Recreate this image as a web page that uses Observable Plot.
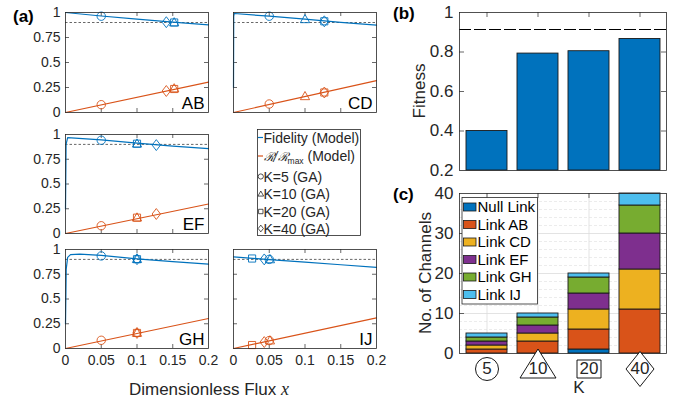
<!DOCTYPE html>
<html>
<head>
<meta charset="utf-8">
<script src="https://cdn.jsdelivr.net/npm/d3@7"></script>
<script src="https://cdn.jsdelivr.net/npm/@observablehq/plot@0.6"></script>
<style>
html,body{margin:0;padding:0;background:#fff;}
#chart{position:relative;width:689px;height:403px;overflow:hidden;background:#fff;}
#chart svg{position:absolute;}
</style>
</head>
<body>
<div id="chart"></div>
<script>
// ---------------- Panel (a) data ----------------
const linkNames = ["AB", "CD", "EF", "GH", "IJ"];
const fluxTicks = [0, 0.05, 0.1, 0.15, 0.2];
const fidelityTicks = [0, 0.25, 0.5, 0.75, 1];
const fidelityThreshold = 0.9;

// model fidelity curves [flux x, fidelity]
const fidelityAB = [[0, 1.0], [0.05, 0.965], [0.1, 0.933], [0.15, 0.904], [0.2, 0.877]];
const fidelityCD = [[0, 0.25], [0.0003, 0.96], [0.001, 0.99], [0.05, 0.963], [0.1, 0.933], [0.15, 0.902], [0.2, 0.874]];
const fidelityEF = [[0, 0.25], [0.0008, 0.9], [0.003, 0.968], [0.05, 0.945], [0.1, 0.912], [0.15, 0.883], [0.2, 0.857]];
const fidelityGH = [[0, 0.25], [0.001, 0.8], [0.003, 0.92], [0.007, 0.948], [0.02, 0.953], [0.05, 0.94], [0.1, 0.905], [0.15, 0.877], [0.2, 0.852]];
const fidelityIJ = [[0, 0.925], [0.05, 0.898], [0.1, 0.872], [0.15, 0.846], [0.2, 0.82]];

// model normalised rate R/Rmax [flux x, rate]
const rateAB = [[0, 0], [0.2, 0.303]];
const rateCD = [[0, 0], [0.2, 0.318]];
const rateEF = [[0, 0], [0.2, 0.298]];
const rateGH = [[0, 0], [0.2, 0.303]];
const rateIJ = [[0, 0], [0.2, 0.31]];

// GA solutions for K = 5, 10, 20, 40
const gaK = [5, 10, 20, 40];
const gaFluxAB = [0.05, 0.152, 0.152, 0.141];
const gaFidAB  = [0.963, 0.9, 0.9, 0.903];
const gaRateAB = [0.078, 0.24, 0.235, 0.215];
const gaFluxCD = [0.05, 0.1, 0.127, 0.127];
const gaFidCD  = [0.963, 0.932, 0.912, 0.912];
const gaRateCD = [0.085, 0.162, 0.2, 0.2];
const gaFluxEF = [0.05, 0.1, 0.1, 0.127];
const gaFidEF  = [0.942, 0.907, 0.907, 0.893];
const gaRateEF = [0.078, 0.16, 0.16, 0.197];
const gaFluxGH = [0.05, 0.1, 0.1, 0.1];
const gaFidGH  = [0.935, 0.902, 0.902, 0.902];
const gaRateGH = [0.083, 0.157, 0.157, 0.157];
const gaFluxIJ = [0.05, 0.051, 0.026, 0.043];
const gaFidIJ  = [0.9, 0.9, 0.909, 0.9];
const gaRateIJ = [0.08, 0.08, 0.035, 0.065];

// ---------------- Panel (b) data ----------------
const kValues = ["5", "10", "20", "40"];
const fitness = [0.40, 0.792, 0.804, 0.866];
const fitnessTarget = 0.914;
const fitnessTicks = [0.2, 0.4, 0.6, 0.8, 1];

// ---------------- Panel (c) data ----------------
const channelTypes = ["Null Link", "Link AB", "Link CD", "Link EF", "Link GH", "Link IJ"];
const nullLink = [0, 0, 1, 0];
const linkAB = [1, 3, 5, 11];
const linkCD = [1, 2, 5, 10];
const linkEF = [1, 2, 4, 9];
const linkGH = [1, 2, 4, 7];
const linkIJ = [1, 1, 1, 3];
const channelTicks = [0, 10, 20, 30, 40];

// ---------------- styling ----------------
const chart = document.getElementById("chart");
const FONT = '"Liberation Sans", Arial, Helvetica, sans-serif';
const INK = "#262626";
const BLUE = "#0072BD", ORANGE = "#D95319";
const channelColors = ["#0072BD", "#D95319", "#EDB120", "#7E2F8E", "#77AC30", "#4DBEEE"];
const baseStyle = {fontFamily: FONT, fontSize: "14px", color: INK, background: "none", overflow: "visible", maxWidth: "none"};

function place(svg, left, top) {
  svg.style.left = left + "px";
  svg.style.top = top + "px";
  chart.appendChild(svg);
}
const rOf = s => Math.sqrt(s / Math.PI);
const markerShapes = [
  {draw(c, s) { const r = rOf(s); c.moveTo(r, 0); c.arc(0, 0, r, 0, 2 * Math.PI); c.closePath(); }},
  {draw(c, s) { const r = rOf(s); c.moveTo(0, -1.15 * r); c.lineTo(1.1 * r, 0.8 * r); c.lineTo(-1.1 * r, 0.8 * r); c.closePath(); }},
  {draw(c, s) { const r = rOf(s) * 0.85; c.rect(-r, -r, 2 * r, 2 * r); }},
  {draw(c, s) { const r = rOf(s); c.moveTo(0, -1.3 * r); c.lineTo(r, 0); c.lineTo(0, 1.3 * r); c.lineTo(-r, 0); c.closePath(); }}
];

// ---------------- Panel (a) ----------------
function linkPanel(name, fid, rate, gx, gf, gr, L, T, H, showX, showY) {
  const W = 143, mL = 60, mR = 10, mT = 8, mB = showX ? 30 : 8;
  const innerFlux = fluxTicks.slice(1, -1), innerFid = fidelityTicks.slice(1, -1);
  const pts = gaK.map((k, i) => ({k, i, x: gx[i], f: gf[i], r: gr[i]}));
  const tk = {stroke: INK, strokeWidth: 0.7};
  const marks = [
    Plot.ruleY([fidelityThreshold], {stroke: INK, strokeWidth: 0.7, strokeDasharray: "2.5,2"}),
    Plot.tickX(innerFlux, {x: d => d, insetBottom: H - 4, ...tk}),
    Plot.tickX(innerFlux, {x: d => d, insetTop: H - 4, ...tk}),
    Plot.tickY(innerFid, {y: d => d, insetRight: W - 4, ...tk}),
    Plot.tickY(innerFid, {y: d => d, insetLeft: W - 4, ...tk}),
    Plot.line(fid, {x: d => d[0], y: d => d[1], stroke: BLUE, strokeWidth: 1.2}),
    Plot.line(rate, {x: d => d[0], y: d => d[1], stroke: ORANGE, strokeWidth: 1.2}),
    ...pts.map(p => Plot.dot([p], {x: "x", y: "f", symbol: markerShapes[p.i], r: 4.2, stroke: BLUE, fill: "none", strokeWidth: 0.9})),
    ...pts.map(p => Plot.dot([p], {x: "x", y: "r", symbol: markerShapes[p.i], r: 4.2, stroke: ORANGE, fill: "none", strokeWidth: 0.9})),
    Plot.frame({stroke: INK, strokeWidth: 0.8}),
    Plot.text([name], {text: d => d, frameAnchor: "bottom-right", dx: -4, dy: -3.5, textAnchor: "end", lineAnchor: "bottom", fontSize: 17, fill: "#000"})
  ];
  if (showY) marks.push(Plot.axisY(fidelityTicks, {tickSize: 0, tickPadding: 5, tickFormat: d => String(d), label: null, fontSize: 14}));
  if (showX) marks.push(Plot.axisX(fluxTicks, {tickSize: 0, tickPadding: 7, tickFormat: d => String(d), label: null, fontSize: 14}));
  const svg = Plot.plot({
    width: mL + W + mR, height: mT + H + mB,
    marginLeft: mL, marginRight: mR, marginTop: mT, marginBottom: mB,
    x: {domain: [0, 0.2], axis: null},
    y: {domain: [0, 1], axis: null},
    style: baseStyle,
    marks
  });
  place(svg, L - mL, T - mT);
}
linkPanel(linkNames[0], fidelityAB, rateAB, gaFluxAB, gaFidAB, gaRateAB, 65, 12, 100, false, true);
linkPanel(linkNames[1], fidelityCD, rateCD, gaFluxCD, gaFidCD, gaRateCD, 233, 12, 100, false, false);
linkPanel(linkNames[2], fidelityEF, rateEF, gaFluxEF, gaFidEF, gaRateEF, 65, 134, 99, false, true);
linkPanel(linkNames[3], fidelityGH, rateGH, gaFluxGH, gaFidGH, gaRateGH, 65, 249, 99, true, true);
linkPanel(linkNames[4], fidelityIJ, rateIJ, gaFluxIJ, gaFidIJ, gaRateIJ, 233, 249, 99, true, false);

// ---------------- Panel (b) ----------------
{
  const L = 459, T = 12, W = 207, H = 158, mL = 55, mR = 10, mT = 8, mB = 8;
  const rows = kValues.map((k, i) => ({k, f: fitness[i]}));
  const inner = fitnessTicks.slice(1, -1);
  const tk = {stroke: INK, strokeWidth: 0.7};
  const svg = Plot.plot({
    width: mL + W + mR, height: mT + H + mB,
    marginLeft: mL, marginRight: mR, marginTop: mT, marginBottom: mB,
    x: {type: "band", domain: kValues, paddingInner: 0.2, paddingOuter: 0.1, axis: null},
    y: {domain: [0.2, 1], axis: null},
    style: baseStyle,
    marks: [
      Plot.tickY(inner, {y: d => d, insetRight: W - 5, ...tk}),
      Plot.tickY(inner, {y: d => d, insetLeft: W - 5, ...tk}),
      Plot.tickX(kValues, {x: d => d, insetBottom: H - 5, ...tk}),
      Plot.barY(rows, {x: "k", y1: fitnessTicks[0], y2: "f", fill: BLUE, stroke: "#1a1a1a", strokeWidth: 0.9}),
      Plot.ruleY([fitnessTarget], {stroke: "#000", strokeWidth: 1.2, strokeDasharray: "12,3"}),
      Plot.frame({stroke: INK, strokeWidth: 0.8}),
      Plot.axisY(fitnessTicks, {tickSize: 0, tickPadding: 6, tickFormat: d => String(d), label: null, fontSize: 17})
    ]
  });
  place(svg, L - mL, T - mT);
}

// ---------------- Panel (c) ----------------
{
  const L = 459, T = 193, W = 207, H = 160, mL = 55, mR = 10, mT = 5, mB = 45;
  const counts = [nullLink, linkAB, linkCD, linkEF, linkGH, linkIJ];
  const rows = [];
  kValues.forEach((k, i) => channelTypes.forEach((t, j) => {
    if (counts[j][i] > 0) rows.push({k, type: t, n: counts[j][i]});
  }));
  const inner = channelTicks.slice(1, -1);
  const minor = d3.range(channelTicks[0], channelTicks[channelTicks.length - 1], 2).filter(v => v % 10 !== 0);
  const tk = {stroke: INK, strokeWidth: 0.7};
  const tickShapes = [
    {draw(c) { c.moveTo(11.5, 0); c.arc(0, 0, 11.5, 0, 2 * Math.PI); c.closePath(); }},
    {draw(c) { c.moveTo(0, -20); c.lineTo(18, 9); c.lineTo(-18, 9); c.closePath(); }},
    {draw(c) { c.rect(-12, -9, 24, 18); }},
    {draw(c) { c.moveTo(0, -17.5); c.lineTo(14, 0); c.lineTo(0, 17.5); c.lineTo(-14, 0); c.closePath(); }}
  ];
  const svg = Plot.plot({
    width: mL + W + mR, height: mT + H + mB,
    marginLeft: mL, marginRight: mR, marginTop: mT, marginBottom: mB,
    x: {type: "band", domain: kValues, paddingInner: 0.2, paddingOuter: 0.1, axis: null},
    y: {domain: [0, 40], axis: null},
    color: {domain: channelTypes, range: channelColors},
    style: baseStyle,
    marks: [
      Plot.ruleY(minor, {y: d => d, stroke: "#e4e4e4", strokeWidth: 0.7, strokeDasharray: "3,2"}),
      Plot.ruleY(inner, {y: d => d, stroke: "#dcdcdc", strokeWidth: 0.8}),
      Plot.ruleX(kValues, {x: d => d, stroke: "#dcdcdc", strokeWidth: 0.8}),
      Plot.tickY(inner, {y: d => d, insetRight: W - 5, ...tk}),
      Plot.tickY(inner, {y: d => d, insetLeft: W - 5, ...tk}),
      Plot.tickX(kValues, {x: d => d, insetBottom: H - 5, ...tk}),
      Plot.tickX(kValues, {x: d => d, insetTop: H - 5, ...tk}),
      Plot.barY(rows, {x: "k", y: "n", fill: "type", stroke: "#1a1a1a", strokeWidth: 0.9}),
      Plot.frame({stroke: INK, strokeWidth: 0.8}),
      Plot.axisY(channelTicks, {tickSize: 0, tickPadding: 6, tickFormat: d => String(d), label: null, fontSize: 17}),
      ...kValues.map((k, i) => Plot.dot([k], {x: d => d, frameAnchor: "bottom", dy: 15.5, symbol: tickShapes[i], r: 5, stroke: "#000", fill: "white", strokeWidth: 0.9})),
      Plot.text(kValues, {x: d => d, text: d => d, frameAnchor: "bottom", dy: 15.5, lineAnchor: "middle", fontSize: 17, fill: INK})
    ]
  });
  place(svg, L - mL, T - mT);
}

// ---------------- Overlay: titles, axis labels, legends ----------------
{
  const svg = d3.select(chart).append("svg")
    .attr("width", 689).attr("height", 403)
    .style("left", "0px").style("top", "0px")
    .style("font-family", FONT).style("fill", INK);
  const txt = (x, y, s, size, opts = {}) => svg.append("text").attr("x", x).attr("y", y)
    .attr("font-size", size).attr("text-anchor", opts.anchor || "start")
    .attr("font-weight", opts.bold ? "bold" : null).attr("fill", opts.fill || INK).text(s);

  txt(13, 22, "(a)", 17, {bold: true, fill: "#000"});
  txt(393, 19, "(b)", 17, {bold: true, fill: "#000"});
  txt(393, 199.5, "(c)", 17, {bold: true, fill: "#000"});
  txt(579, 393, "K", 17, {anchor: "middle"});

  const xl = svg.append("text").attr("x", 209).attr("y", 395).attr("font-size", 17).attr("text-anchor", "middle").attr("fill", INK);
  xl.append("tspan").text("Dimensionless Flux ");
  xl.append("tspan").attr("font-family", '"Liberation Serif", "DejaVu Serif", serif').attr("font-style", "italic").attr("font-size", 18).text("x");

  svg.append("text").attr("transform", "translate(425,91) rotate(-90)").attr("font-size", 17).attr("text-anchor", "middle").attr("fill", INK).text("Fitness");
  svg.append("text").attr("transform", "translate(431,273) rotate(-90)").attr("font-size", 17).attr("text-anchor", "middle").attr("fill", INK).text("No. of Channels");

  // legend (a)
  svg.append("rect").attr("x", 257.5).attr("y", 129.5).attr("width", 103).attr("height", 106)
    .attr("fill", "white").attr("stroke", INK).attr("stroke-width", 0.8);
  const rowsA = [137.5, 156, 176.5, 194, 211.5, 228.5];
  svg.append("line").attr("x1", 258).attr("x2", 263).attr("y1", rowsA[0]).attr("y2", rowsA[0]).attr("stroke", BLUE).attr("stroke-width", 1.2);
  svg.append("line").attr("x1", 258).attr("x2", 263).attr("y1", rowsA[1]).attr("y2", rowsA[1]).attr("stroke", ORANGE).attr("stroke-width", 1.2);
  txt(263.5, rowsA[0] + 5, "Fidelity (Model)", 14);
  const r2 = svg.append("text").attr("x", 263.5).attr("y", rowsA[1] + 5).attr("font-size", 14).attr("fill", INK);
  r2.append("tspan").attr("font-family", '"DejaVu Serif", "Liberation Serif", serif').attr("font-style", "italic").attr("font-size", 12).text("ℛ/ℛ");
  r2.append("tspan").attr("font-size", 8.5).attr("dy", 2.5).text("max");
  r2.append("tspan").attr("dy", -2.5).text(" (Model)");
  gaK.forEach((k, i) => {
    const y = rowsA[i + 2];
    svg.append("path").attr("transform", `translate(260.8,${y})`)
      .attr("d", d3.symbol(markerShapes[i], Math.PI * 2.6 * 2.6)())
      .attr("fill", "none").attr("stroke", INK).attr("stroke-width", 0.8);
    txt(263.5, y + 5, `K=${k} (GA)`, 14);
  });

  // legend (c)
  svg.append("rect").attr("x", 462).attr("y", 197.5).attr("width", 75.5).attr("height", 106.5)
    .attr("fill", "white").attr("stroke", INK).attr("stroke-width", 0.8);
  const rowsC = [207, 224.5, 242, 259.5, 277, 294.5];
  channelTypes.forEach((t, j) => {
    svg.append("rect").attr("x", 463.5).attr("y", rowsC[j] - 4).attr("width", 12.5).attr("height", 8)
      .attr("fill", channelColors[j]).attr("stroke", "#1a1a1a").attr("stroke-width", 0.8);
    txt(477.5, rowsC[j] + 5.3, t, 15, {fill: "#000"});
  });
}
</script>
</body>
</html>
